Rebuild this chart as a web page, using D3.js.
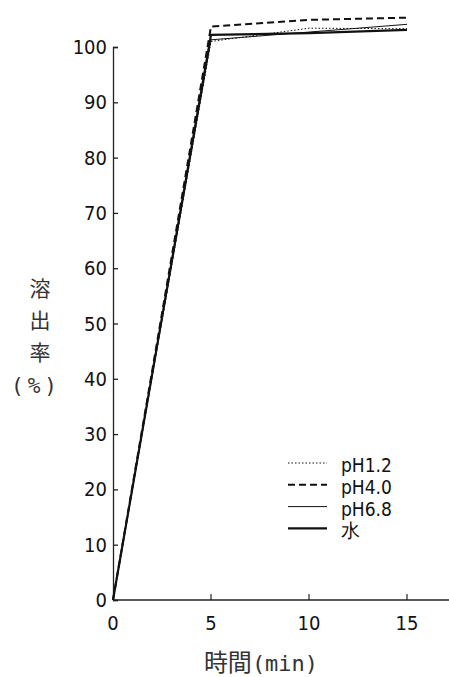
<!DOCTYPE html>
<html>
<head>
<meta charset="utf-8">
<script src="https://cdn.jsdelivr.net/npm/d3@7"></script>
<style>
  body { margin: 0; background: #fff; }
  svg { display: block; }
</style>
</head>
<body>
<svg id="chart" width="449" height="677"></svg>
<script>
// dissolution data
const times = [0, 5, 10, 15];
const seriesNames = ['pH1.2', 'pH4.0', 'pH6.8', '水'];
const pH12 = [0, 101.0, 103.4, 103.3];
const pH40 = [0, 103.7, 104.9, 105.3];
const pH68 = [0, 101.3, 102.7, 104.1];
const water = [0, 102.2, 102.5, 103.1];
const yTicks = [0, 10, 20, 30, 40, 50, 60, 70, 80, 90, 100];
const xTicks = [0, 5, 10, 15];

const svg = d3.select('#chart');

const x = d3.scaleLinear().domain([0, 15]).range([113, 407]);
const y = d3.scaleLinear().domain([0, 100]).range([600, 47]);

const tickFont = "'DejaVu Sans Condensed', 'Liberation Sans', sans-serif";
const cjkFont = "'Noto Sans CJK JP', sans-serif";
const monoFont = "'DejaVu Sans Mono', 'Liberation Mono', monospace";

// axes
const yAxis = d3.axisRight(y).tickValues(yTicks).tickSize(5).tickFormat('');
svg.append('g')
    .attr('transform', `translate(${x(0)},0)`)
    .call(yAxis)
    .call(g => g.selectAll('path, line').attr('stroke', '#222').attr('stroke-width', 1.3));

svg.append('line')
    .attr('x1', x(0)).attr('x2', 449)
    .attr('y1', y(0)).attr('y2', y(0))
    .attr('stroke', '#222').attr('stroke-width', 1.5);

svg.append('g')
  .selectAll('line')
  .data(xTicks.slice(1))
  .join('line')
    .attr('x1', d => x(d)).attr('x2', d => x(d))
    .attr('y1', y(0)).attr('y2', y(0) - 6)
    .attr('stroke', '#222').attr('stroke-width', 1.2);

// tick labels
svg.append('g')
  .selectAll('text')
  .data(yTicks)
  .join('text')
    .attr('x', 107)
    .attr('y', d => y(d))
    .attr('text-anchor', 'end')
    .attr('dominant-baseline', 'central')
    .attr('font-family', tickFont)
    .attr('font-size', 20)
    .attr('fill', '#111')
    .text(d => d);

svg.append('g')
  .selectAll('text')
  .data(xTicks)
  .join('text')
    .attr('x', d => x(d))
    .attr('y', 630)
    .attr('text-anchor', 'middle')
    .attr('font-family', tickFont)
    .attr('font-size', 20)
    .attr('fill', '#111')
    .text(d => d);

// axis titles
const xTitle = svg.append('text')
    .attr('x', 261)
    .attr('y', 671)
    .attr('text-anchor', 'middle')
    .attr('fill', '#333');
xTitle.append('tspan')
    .attr('font-family', cjkFont)
    .attr('font-size', 24)
    .text('時間');
xTitle.append('tspan')
    .attr('font-family', monoFont)
    .attr('font-size', 22)
    .text('(min)');

const yTitle = ['溶', '出', '率'];
svg.append('g')
  .selectAll('text')
  .data(yTitle)
  .join('text')
    .attr('x', 40)
    .attr('y', (d, i) => 296 + i * 32)
    .attr('text-anchor', 'middle')
    .attr('font-family', cjkFont)
    .attr('font-size', 21)
    .attr('fill', '#333')
    .text(d => d);
svg.append('text')
    .attr('x', 36)
    .attr('y', 393)
    .attr('text-anchor', 'middle')
    .attr('font-family', monoFont)
    .attr('font-size', 21)
    .attr('letter-spacing', 4)
    .attr('fill', '#333')
    .text('(%)');

// lines
const series = [
  { name: seriesNames[0], values: pH12, dash: '1.5,2', width: 1 },
  { name: seriesNames[1], values: pH40, dash: '7,4', width: 2 },
  { name: seriesNames[2], values: pH68, dash: null, width: 1 },
  { name: seriesNames[3], values: water, dash: null, width: 2.2 }
];

const line = d3.line()
    .x((d, i) => x(times[i]))
    .y(d => y(d));

svg.append('g')
  .selectAll('path')
  .data(series)
  .join('path')
    .attr('d', d => line(d.values))
    .attr('fill', 'none')
    .attr('stroke', '#111')
    .attr('stroke-width', d => d.width)
    .attr('stroke-dasharray', d => d.dash);

// legend
const legend = svg.append('g');
const rowY = i => 463 + i * 21.8;

legend.selectAll('line')
  .data(series)
  .join('line')
    .attr('x1', 288).attr('x2', 327)
    .attr('y1', (d, i) => rowY(i)).attr('y2', (d, i) => rowY(i))
    .attr('stroke', '#111')
    .attr('stroke-width', d => d.width)
    .attr('stroke-dasharray', d => d.dash);

legend.selectAll('text')
  .data(series)
  .join('text')
    .attr('x', 341)
    .attr('y', (d, i) => rowY(i) + 2)
    .attr('dominant-baseline', 'central')
    .attr('font-family', tickFont)
    .attr('font-size', 19)
    .attr('fill', '#111')
    .text(d => d.name);
</script>
</body>
</html>
